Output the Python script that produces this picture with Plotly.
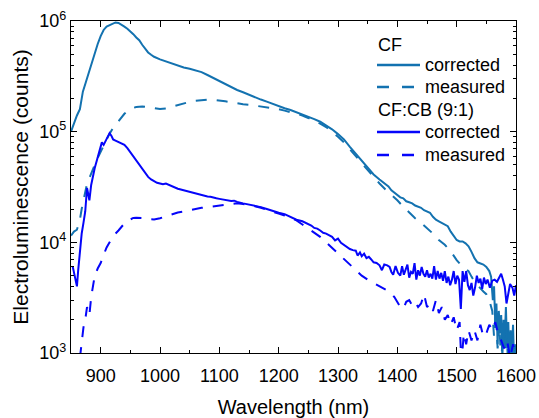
import plotly.graph_objects as go

# Wavelength grid and electroluminescence counts for each sample
cf_corr_wl = [850, 855, 860, 865, 870, 875, 880, 885, 890, 895, 900, 905, 910, 915, 920, 925, 930, 935, 940,
              945, 950, 955, 960, 965, 970, 975, 980, 985, 990, 1000, 1010, 1020, 1030, 1040, 1050, 1060, 1070,
              1080, 1090, 1100, 1110, 1120, 1130, 1140, 1150, 1160, 1170, 1180, 1190, 1200, 1210, 1220, 1230,
              1240, 1250, 1260, 1270, 1280, 1290, 1300, 1310, 1320, 1330, 1340, 1350, 1360, 1370, 1380, 1385,
              1390, 1395, 1400, 1405, 1410, 1415, 1420, 1425, 1430, 1435, 1440, 1445, 1450, 1455, 1460, 1465,
              1470, 1475, 1480, 1485, 1490, 1495, 1500, 1505, 1510, 1515, 1520, 1525, 1530, 1535, 1540, 1545,
              1550, 1555, 1558, 1561, 1563, 1565, 1567, 1569, 1571, 1573, 1575, 1577, 1579, 1581, 1583, 1585,
              1587, 1589, 1591, 1593, 1595, 1597, 1600]
cf_corr = [1.0e5, 1.2e5, 1.4e5, 1.6e5, 2.3e5, 2.8e5, 3.4e5, 4.3e5, 5.0e5, 6.2e5, 7.3e5, 8.3e5, 8.9e5, 9.2e5,
           9.5e5, 9.7e5, 9.6e5, 9.3e5, 8.9e5, 8.5e5, 8.1e5, 7.6e5, 7.1e5, 6.7e5, 6.1e5, 5.6e5, 5.2e5, 4.95e5,
           4.75e5, 4.5e5, 4.3e5, 4.1e5, 3.95e5, 3.8e5, 3.7e5, 3.6e5, 3.45e5, 3.25e5, 3.05e5, 2.85e5, 2.67e5,
           2.5e5, 2.38e5, 2.27e5, 2.15e5, 2.05e5, 1.95e5, 1.87e5, 1.78e5, 1.70e5, 1.63e5, 1.57e5, 1.50e5,
           1.44e5, 1.37e5, 1.30e5, 1.23e5, 1.14e5, 1.05e5, 9.5e4, 8.5e4, 7.3e4, 6.3e4, 5.5e4, 4.8e4, 4.1e4,
           3.7e4, 3.4e4, 3.2e4, 2.95e4, 2.8e4, 2.7e4, 2.55e4, 2.5e4, 2.35e4, 2.3e4, 2.25e4, 2.15e4, 2.1e4,
           2.05e4, 1.95e4, 1.9e4, 1.85e4, 1.7e4, 1.6e4, 1.55e4, 1.5e4, 1.45e4, 1.4e4, 1.25e4, 1.15e4, 1.05e4,
           1.02e4, 1.02e4, 9.8e3, 9.2e3, 8.2e3, 7.2e3, 6.6e3, 6.5e3, 6.3e3, 6.0e3, 5.5e3, 4.9e3, 3.0e3, 4.0e3,
           1.9e3, 2.8e3, 1.2e3, 2.4e3, 1.5e3, 2.2e3, 9.0e2, 2.0e3, 1.3e3, 2.6e3, 1.1e3, 1.9e3, 8.0e2, 1.6e3,
           1.0e3, 1.8e3, 7.0e2, 1.2e3]

cf_meas_wl = [850, 855, 860, 865, 868, 872, 876, 880, 885, 890, 895, 900, 905, 910, 915, 920, 925, 930, 935,
              940, 945, 950, 955, 960, 970, 980, 990, 1000, 1010, 1020, 1030, 1040, 1050, 1060, 1070, 1080,
              1090, 1100, 1110, 1120, 1130, 1140, 1150, 1160, 1170, 1180, 1190, 1200, 1210, 1220, 1230, 1240,
              1250, 1260, 1270, 1280, 1290, 1300, 1310, 1320, 1330, 1340, 1350, 1360, 1370, 1380, 1390, 1400,
              1410, 1420, 1430, 1440, 1450, 1460, 1470, 1480, 1490, 1500, 1510, 1520, 1525, 1530, 1535, 1540,
              1545, 1550, 1555, 1560, 1563, 1566, 1569, 1572, 1575, 1578, 1581, 1584, 1587, 1590, 1594, 1597,
              1600]
cf_meas = [1.15e4, 1.25e4, 1.3e4, 1.6e4, 2.0e4, 2.6e4, 3.2e4, 3.7e4, 4.4e4, 5.0e4, 5.8e4, 6.6e4, 7.5e4,
           8.5e4, 9.6e4, 1.06e5, 1.15e5, 1.25e5, 1.35e5, 1.45e5, 1.53e5, 1.6e5, 1.64e5, 1.67e5, 1.69e5,
           1.66e5, 1.62e5, 1.6e5, 1.62e5, 1.68e5, 1.75e5, 1.81e5, 1.86e5, 1.9e5, 1.93e5, 1.95e5, 1.94e5,
           1.92e5, 1.88e5, 1.84e5, 1.8e5, 1.77e5, 1.75e5, 1.72e5, 1.70e5, 1.68e5, 1.64e5, 1.60e5, 1.55e5,
           1.5e5, 1.45e5, 1.4e5, 1.33e5, 1.26e5, 1.18e5, 1.1e5, 1.0e5, 9.0e4, 8.0e4, 7.0e4, 6.0e4, 5.2e4,
           4.5e4, 3.9e4, 3.4e4, 3.0e4, 2.7e4, 2.4e4, 2.1e4, 1.85e4, 1.65e4, 1.5e4, 1.35e4, 1.2e4, 1.05e4,
           9.5e3, 8.3e3, 6.9e3, 6.0e3, 5.5e3, 4.9e3, 4.4e3, 4.1e3, 3.8e3, 3.6e3, 3.4e3, 3.0e3, 2.4e3, 1.4e3,
           2.3e3, 1.1e3, 1.8e3, 8.0e2, 1.5e3, 1.0e3, 1.7e3, 7.0e2, 1.3e3, 8.0e2, 1.2e3, 6.0e2]

cfcb_corr_wl = [853, 856, 858, 860, 862, 865, 868, 871, 874, 877, 879, 881, 884, 887, 890, 894, 898, 902, 905,
                908, 912, 915, 918, 921, 925, 930, 935, 940, 945, 950, 955, 960, 965, 970, 975, 980, 985, 990,
                995, 1000, 1005, 1010, 1015, 1020, 1025, 1030, 1035, 1040, 1045, 1050, 1055, 1060, 1065, 1070,
                1075, 1080, 1085, 1090, 1095, 1100, 1110, 1120, 1125, 1130, 1140, 1150, 1160, 1170, 1180, 1190,
                1200, 1210, 1215, 1220, 1225, 1230, 1240, 1245, 1250, 1255, 1260, 1265, 1270, 1275, 1280, 1285,
                1290, 1295, 1300, 1305, 1310, 1315, 1320, 1325, 1330, 1333, 1337, 1340, 1344, 1348, 1352, 1356,
                1360, 1365, 1370, 1374, 1378, 1383, 1387, 1390, 1393, 1397, 1401, 1405, 1408, 1411, 1414, 1417,
                1420, 1423, 1426, 1429, 1432, 1435, 1438, 1441, 1444, 1447, 1450, 1453, 1456, 1459, 1462, 1465,
                1468, 1471, 1474, 1477, 1480, 1483, 1486, 1489, 1492, 1495, 1498, 1501, 1504, 1507, 1510, 1513,
                1516, 1519, 1522, 1525, 1528, 1531, 1534, 1537, 1540, 1543, 1546, 1549, 1552, 1556, 1560, 1564,
                1568, 1572, 1575, 1578, 1581, 1584, 1587, 1590, 1594, 1597, 1600]
cfcb_corr = [6.0e3, 5.0e3, 4.3e3, 4.0e3, 5.5e3, 9.0e3, 1.2e4, 1.5e4, 1.9e4, 3.1e4, 2.6e4, 2.4e4, 3.3e4, 4.0e4,
             4.7e4, 5.6e4, 6.8e4, 8.0e4, 7.6e4, 8.2e4, 9.0e4, 9.7e4, 9.2e4, 8.5e4, 8.3e4, 8.1e4, 7.9e4, 7.6e4,
             7.1e4, 6.5e4, 6.0e4, 5.5e4, 5.0e4, 4.6e4, 4.2e4, 3.9e4, 3.7e4, 3.55e4, 3.45e4, 3.4e4, 3.35e4,
             3.4e4, 3.3e4, 3.2e4, 3.12e4, 3.05e4, 3.0e4, 2.95e4, 2.92e4, 2.88e4, 2.82e4, 2.78e4, 2.74e4, 2.7e4,
             2.62e4, 2.6e4, 2.58e4, 2.52e4, 2.5e4, 2.47e4, 2.42e4, 2.36e4, 2.38e4, 2.32e4, 2.25e4, 2.2e4,
             2.15e4, 2.08e4, 2.0e4, 1.92e4, 1.85e4, 1.8e4, 1.75e4, 1.72e4, 1.65e4, 1.6e4, 1.55e4, 1.5e4,
             1.45e4, 1.42e4, 1.35e4, 1.33e4, 1.28e4, 1.22e4, 1.2e4, 1.15e4, 1.12e4, 1.04e4, 1.08e4, 9.9e3,
             9.5e3, 9.0e3, 8.7e3, 8.5e3, 8.4e3, 7.6e3, 8.1e3, 7.5e3, 7.9e3, 7.2e3, 7.4e3, 7.0e3, 6.6e3, 6.5e3,
             6.2e3, 5.6e3, 6.3e3, 6.2e3, 6.0e3, 5.4e3, 5.1e3, 6.1e3, 5.3e3, 5.0e3, 6.1e3, 5.1e3, 5.6e3, 6.3e3,
             4.8e3, 5.4e3, 5.2e3, 6.5e3, 4.6e3, 5.6e3, 5.0e3, 6.0e3, 5.2e3, 4.9e3, 5.6e3, 4.8e3, 5.2e3, 4.7e3,
             6.1e3, 4.6e3, 5.5e3, 4.7e3, 5.3e3, 4.5e3, 5.5e3, 4.3e3, 4.9e3, 4.1e3, 4.6e3, 5.5e3, 4.2e3, 5.0e3,
             4.6e3, 2.5e3, 5.5e3, 4.4e3, 5.5e3, 4.1e3, 3.7e3, 4.3e3, 3.3e3, 3.9e3, 5.0e3, 4.3e3, 4.7e3, 3.8e3,
             4.8e3, 4.2e3, 4.6e3, 3.9e3, 4.5e3, 4.6e3, 4.4e3, 4.8e3, 5.2e3, 4.6e3, 4.0e3, 2.8e3, 3.5e3, 4.2e3,
             3.9e3, 3.3e3, 4.1e3, 3.6e3, 2.6e3]

cfcb_meas_wl = [865, 868, 871, 874, 877, 879, 881, 884, 887, 890, 895, 900, 905, 910, 915, 920, 925, 930, 935,
                940, 945, 950, 955, 960, 970, 980, 990, 1000, 1010, 1020, 1030, 1040, 1050, 1060, 1070, 1080,
                1090, 1100, 1110, 1120, 1130, 1140, 1150, 1160, 1170, 1180, 1190, 1200, 1210, 1220, 1230, 1240,
                1250, 1260, 1270, 1280, 1290, 1300, 1310, 1320, 1330, 1340, 1350, 1360, 1370, 1380, 1388, 1395,
                1400, 1405, 1410, 1415, 1420, 1425, 1430, 1435, 1440, 1445, 1450, 1455, 1460, 1465, 1470, 1475,
                1480, 1485, 1490, 1495, 1500, 1505, 1508, 1512, 1516, 1520, 1525, 1530, 1535, 1540, 1545, 1550,
                1555, 1560, 1565, 1570, 1575, 1580, 1585, 1590, 1595, 1600]
cfcb_meas = [9.0e2, 1.3e3, 1.7e3, 2.0e3, 2.6e3, 2.4e3, 2.2e3, 3.2e3, 4.2e3, 5.0e3, 5.8e3, 6.5e3, 7.7e3, 9.0e3,
             1.0e4, 1.1e4, 1.2e4, 1.28e4, 1.38e4, 1.48e4, 1.56e4, 1.62e4, 1.66e4, 1.67e4, 1.66e4, 1.62e4,
             1.61e4, 1.65e4, 1.72e4, 1.8e4, 1.86e4, 1.9e4, 1.96e4, 2.0e4, 2.05e4, 2.08e4, 2.12e4, 2.16e4,
             2.2e4, 2.22e4, 2.25e4, 2.22e4, 2.18e4, 2.12e4, 2.05e4, 1.98e4, 1.9e4, 1.82e4, 1.75e4, 1.66e4,
             1.58e4, 1.45e4, 1.33e4, 1.22e4, 1.12e4, 1.0e4, 8.9e3, 7.9e3, 7.1e3, 6.3e3, 5.6e3, 5.0e3, 4.6e3,
             4.3e3, 4.0e3, 3.7e3, 3.55e3, 3.2e3, 2.9e3, 2.6e3, 2.5e3, 2.9e3, 3.0e3, 2.7e3, 2.9e3, 2.6e3, 2.8e3,
             3.4e3, 2.6e3, 2.8e3, 2.4e3, 3.0e3, 2.3e3, 2.6e3, 2.0e3, 2.2e3, 1.8e3, 2.1e3, 1.6e3, 1.9e3, 8.0e2,
             1.5e3, 1.2e3, 1.6e3, 1.3e3, 1.6e3, 1.3e3, 1.8e3, 1.4e3, 1.5e3, 1.8e3, 1.6e3, 1.9e3, 1.5e3, 1.3e3,
             1.1e3, 1.3e3, 9.0e2, 1.2e3, 8.0e2]

y_tickvals = [1e3, 1e4, 1e5, 1e6]
y_ticktext = ["10<sup>3</sup>", "10<sup>4</sup>", "10<sup>5</sup>", "10<sup>6</sup>"]

CF_COLOR = "#1372b0"
CFCB_COLOR = "#0505fa"
DASH = "11px,10px"
FONT = "Liberation Sans, Arial, sans-serif"

# figure / plot-area geometry in pixels
W, H = 539, 418
ML, MR, MT, MB = 71, 23, 21, 65
PW, PH = W - ML - MR, H - MT - MB


def px_x(px):
    return (px - ML) / PW


def px_y(py):
    return (H - MB - py) / PH


fig = go.Figure()
series = [
    (cf_corr_wl, cf_corr, CF_COLOR, "solid", "corrected"),
    (cf_meas_wl, cf_meas, CF_COLOR, DASH, "measured"),
    (cfcb_corr_wl, cfcb_corr, CFCB_COLOR, "solid", "corrected"),
    (cfcb_meas_wl, cfcb_meas, CFCB_COLOR, DASH, "measured"),
]
for wl, counts, color, dash, name in series:
    fig.add_trace(go.Scatter(
        x=wl, y=counts, mode="lines", name=name, showlegend=False,
        line=dict(color=color, width=2, dash=dash),
    ))

# grouped key: group headings, then a line sample and label per series
legend_rows = [
    ("CF", None, None, 45),
    ("corrected", CF_COLOR, "solid", 65),
    ("measured", CF_COLOR, "12px,13px", 87),
    ("CF:CB (9:1)", None, None, 110),
    ("corrected", CFCB_COLOR, "solid", 132),
    ("measured", CFCB_COLOR, "12px,13px", 155),
]
shapes = []
annotations = []
for text, color, dash, ypix in legend_rows:
    if color is None:
        annotations.append(dict(
            text=text, x=px_x(376), y=px_y(ypix), xref="paper", yref="paper",
            xanchor="left", yanchor="middle", showarrow=False,
            font=dict(size=18, color="black", family=FONT),
        ))
    else:
        shapes.append(dict(
            type="line", xref="paper", yref="paper",
            x0=px_x(377), x1=px_x(420), y0=px_y(ypix), y1=px_y(ypix),
            line=dict(color=color, width=2.3, dash=dash),
        ))
        annotations.append(dict(
            text=text, x=px_x(423), y=px_y(ypix), xref="paper", yref="paper",
            xanchor="left", yanchor="middle", showarrow=False,
            font=dict(size=18, color="black", family=FONT),
        ))

axis_common = dict(
    showline=True, linecolor="black", linewidth=1.3, mirror="ticks",
    ticks="inside", ticklen=6, tickwidth=1, tickcolor="black",
    showgrid=False, zeroline=False, automargin=False,
    tickfont=dict(size=18, color="black", family=FONT),
)

fig.update_xaxes(
    range=[850, 1600], dtick=100, tick0=900,
    minor=dict(ticks="inside", ticklen=3, dtick=50, tick0=850, tickcolor="black"),
    title=dict(text="Wavelength (nm)", font=dict(size=20, color="black", family=FONT), standoff=15),
    ticklabelstandoff=6,
    **axis_common,
)
fig.update_yaxes(
    type="log", range=[3, 6], tickvals=y_tickvals, ticktext=y_ticktext,
    minor=dict(ticks="inside", ticklen=3, dtick="D1", tickcolor="black"),
    title=dict(text="Electroluminescence (counts)", font=dict(size=21, color="black", family=FONT), standoff=4),
    **axis_common,
)

fig.update_layout(
    width=W, height=H,
    margin=dict(l=ML, r=MR, t=MT, b=MB),
    paper_bgcolor="white", plot_bgcolor="white",
    font=dict(family=FONT, color="black"),
    showlegend=False,
    shapes=shapes,
    annotations=annotations,
)

fig.write_html("out.html")
